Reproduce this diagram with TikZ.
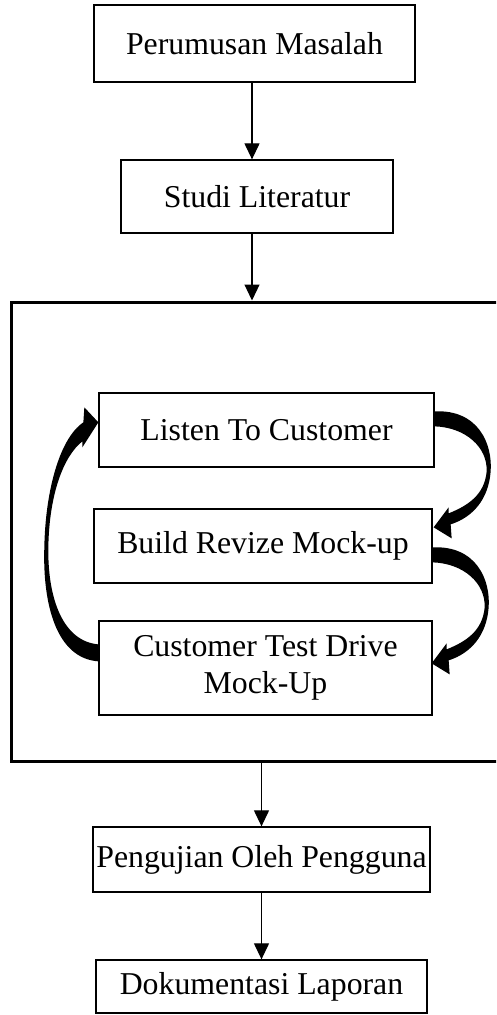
\documentclass[tikz,border=0pt]{standalone}
\usepackage{fontspec}
\setmainfont{Liberation Serif}
\usetikzlibrary{arrows.meta,calc}
\tikzset{
  box/.style={draw=black, line width=1.3pt, inner sep=0pt, align=center,
    font=\fontsize{31.8}{37}\selectfont},
  frame/.style={draw=black, line width=3pt, inner sep=0pt},
  conn/.style={line width=1.2pt, -{Triangle[width=15pt,length=16pt]}},
  blockarrow/.style={fill=black, draw=none}
}
\begin{document}
\begin{tikzpicture}[x=1pt,y=-1pt]
\clip (0,0) rectangle (496,1015);
\useasboundingbox (0,0) rectangle (496,1015);
% main boxes
\node[box, minimum width=321pt, minimum height=77pt] (perumusan) at (254.5,43.5) {Perumusan Masalah};
\node[box, minimum width=272pt, minimum height=73pt] (studi) at (257,196.5) {Studi Literatur};
\node[frame, minimum width=496pt, minimum height=459pt] (proto) at (259,531.5) {};
\node[box, minimum width=335pt, minimum height=74pt] (listen) at (266.5,430) {Listen To Customer};
\node[box, minimum width=338pt, minimum height=74pt] (build) at (263,546) {Build Revize Mock-up};
\node[box, minimum width=333pt, minimum height=94pt] (cust) at (265.5,668) {Customer Test Drive\\Mock-Up};
\node[box, minimum width=337pt, minimum height=65pt] (uji) at (261.5,859.5) {Pengujian Oleh Pengguna};
\node[box, minimum width=331pt, minimum height=53pt] (dok) at (261.5,986.5) {Dokumentasi Laporan};
% straight connectors
\draw[conn] ($(perumusan.south)+(-2.5,0)$) -- ($(perumusan.south |- studi.north)+(-2.5,0)$);
\draw[conn] ($(studi.south)+(-5,0)$) -- ($(studi.south |- proto.north)+(-5,0)$);
\draw[conn] (uji.north |- proto.south) -- (uji.north);
\draw[conn] (uji.south) -- (uji.south |- dok.north);
% curved block arrows (right side)
\begin{scope}[shift={($(listen.north east)+(0,19)$)}]
\fill[blockarrow] (0,0) .. controls (44,-2) and (58,33) .. (56,60)
  .. controls (54,88) and (38,106) .. (16,113) -- (17,127) -- (-1,116) -- (14,96) -- (14,102)
  .. controls (34,94) and (50,83) .. (52,60) .. controls (53,36) and (31,16) .. (0,15) -- cycle;
\end{scope}
\begin{scope}[shift={($(build.north east)+(0,39)$)}]
\fill[blockarrow] (0,0) .. controls (44,-2) and (58,33) .. (56,60)
  .. controls (54,88) and (38,106) .. (16,113) -- (17,127) -- (-1,116) -- (14,96) -- (14,102)
  .. controls (34,94) and (50,83) .. (52,60) .. controls (53,36) and (31,16) .. (0,15) -- cycle;
\end{scope}
% curved block arrow (left side)
\begin{scope}[shift={($(cust.north west)+(0,24)$)}]
\fill[blockarrow] (0,0) -- (0,17) .. controls (-42,14) and (-56,-40) .. (-54,-98)
  .. controls (-53,-150) and (-40,-205) .. (-15,-222) -- (-14,-237) -- (0,-222) -- (-16,-197) -- (-16,-203)
  .. controls (-35,-188) and (-49,-150) .. (-50,-98) .. controls (-51,-45) and (-35,-3) .. (0,0) -- cycle;
\end{scope}
\end{tikzpicture}
\end{document}
